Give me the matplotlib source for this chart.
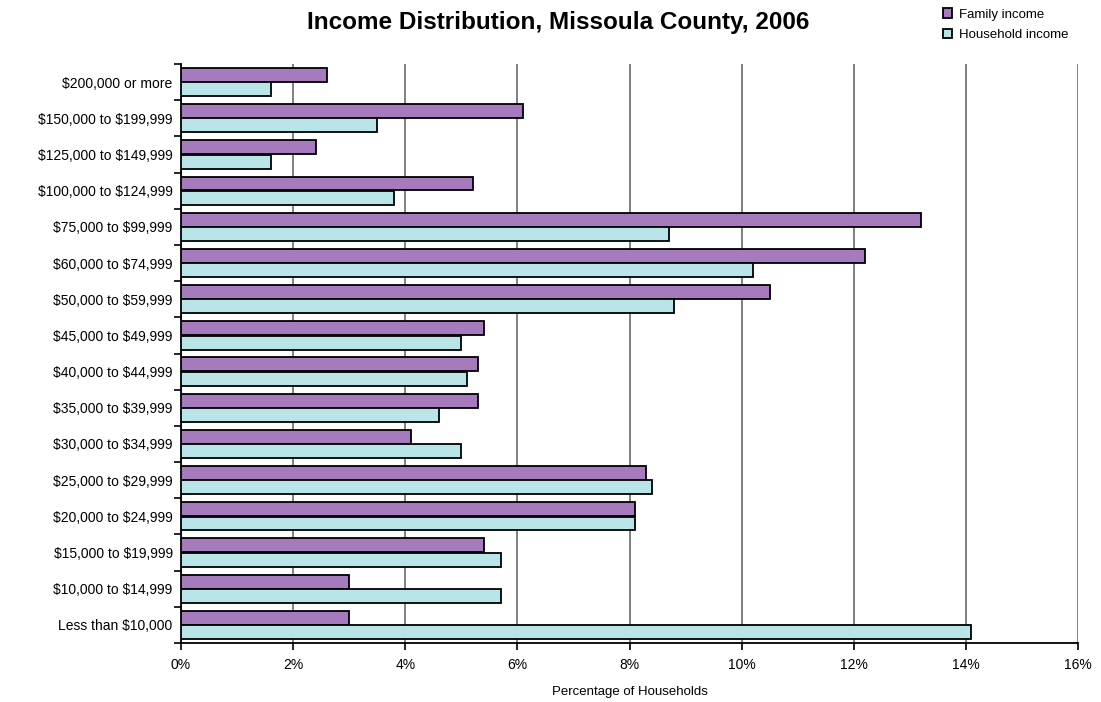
import numpy as np
import matplotlib
matplotlib.use('Agg')
import matplotlib.pyplot as plt
from matplotlib.ticker import FuncFormatter, FixedLocator

plt.rcParams['font.family'] = ['Liberation Sans', 'DejaVu Sans']
plt.rcParams['text.parse_math'] = False

# income brackets, bottom to top
brackets = ['Less than $10,000', '$10,000 to $14,999', '$15,000 to $19,999',
            '$20,000 to $24,999', '$25,000 to $29,999', '$30,000 to $34,999',
            '$35,000 to $39,999', '$40,000 to $44,999', '$45,000 to $49,999',
            '$50,000 to $59,999', '$60,000 to $74,999', '$75,000 to $99,999',
            '$100,000 to $124,999', '$125,000 to $149,999', '$150,000 to $199,999',
            '$200,000 or more']
family = [3.0, 3.0, 5.4, 8.1, 8.3, 4.1, 5.3, 5.3, 5.4, 10.5, 12.2, 13.2, 5.2, 2.4, 6.1, 2.6]
household = [14.1, 5.7, 5.7, 8.1, 8.4, 5.0, 4.6, 5.1, 5.0, 8.8, 10.2, 8.7, 3.8, 1.6, 3.5, 1.6]

fam_color = '#A57BBE'
hh_color = '#B9E5E8'

fig = plt.figure(figsize=(11.01, 7.02), dpi=100)
ax = fig.add_axes([181 / 1101, 1 - 643 / 702, (1078 - 181) / 1101, (643 - 64) / 702])

y = np.arange(len(brackets))
h = 0.385
ax.barh(y + h / 2 + 0.005, family, height=h, color=fam_color, edgecolor='black',
        linewidth=1.3, label='Family income', zorder=3)
ax.barh(y - h / 2 - 0.005, household, height=h, color=hh_color, edgecolor='black',
        linewidth=1.3, label='Household income', zorder=3)

ax.set_xlim(0, 16)
ax.set_ylim(-0.5, len(brackets) - 0.5)
ax.set_xticks(np.arange(0, 17, 2))
ax.xaxis.set_major_formatter(FuncFormatter(lambda v, p: f'{v:.0f}%'))
ax.set_yticks(y)
ax.set_yticklabels(brackets)
ax.yaxis.set_minor_locator(FixedLocator(np.arange(-0.5, len(brackets), 1)))
ax.tick_params(axis='y', which='major', length=0, labelsize=10, pad=6)
ax.tick_params(axis='y', which='minor', length=5, width=1.2, direction='out')
ax.tick_params(axis='x', length=5, width=1.2, labelsize=10, pad=6)

ax.grid(axis='x', color='#808080', linewidth=1.4, zorder=0)
for s in ['top', 'right']:
    ax.spines[s].set_visible(False)
for s in ['left', 'bottom']:
    ax.spines[s].set_linewidth(1.3)

ax.set_xlabel('Percentage of Households', fontsize=9.5, labelpad=10)
fig.text(0.507, 0.968, 'Income Distribution, Missoula County, 2006', ha='center',
         va='center', fontsize=17.5, fontweight='bold')

fig.legend(loc='upper left', bbox_to_anchor=(931 / 1101, 1.005), frameon=False,
           fontsize=9.5, handlelength=0.7, handleheight=0.7, handletextpad=0.5,
           labelspacing=0.6)

fig.savefig('out.png', dpi=100, facecolor='white')
